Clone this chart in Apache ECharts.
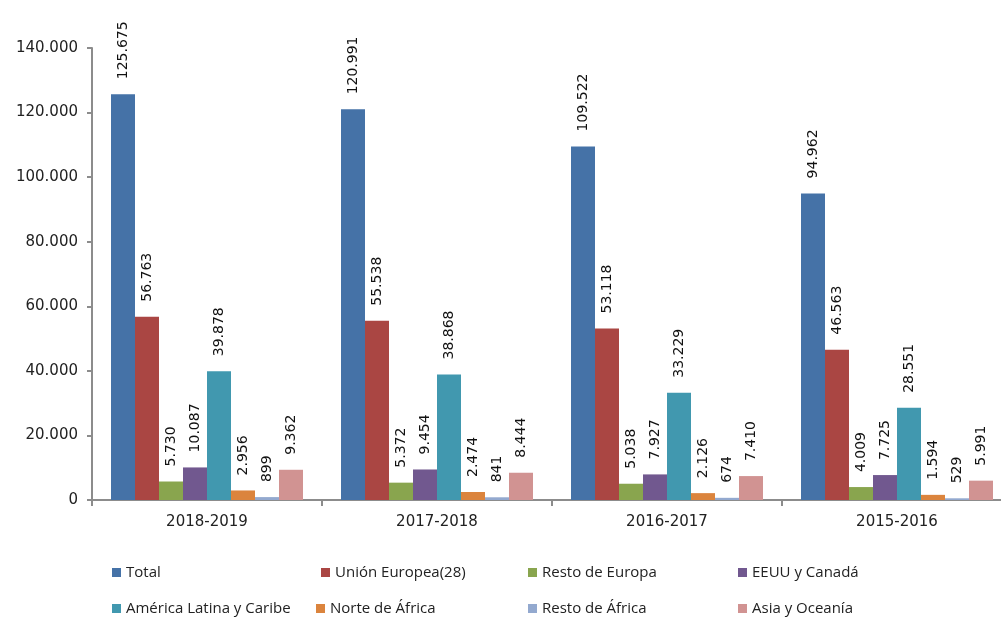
<!DOCTYPE html>
<html>
<head>
<meta charset="utf-8">
<script src="https://cdn.jsdelivr.net/npm/echarts@6/dist/echarts.min.js"></script>
<style>html,body{margin:0;padding:0;background:#fff;}#c{width:1001px;height:619px;}</style>
</head>
<body>
<div id="c"></div>
<script>
const categories = ['2018-2019', '2017-2018', '2016-2017', '2015-2016'];
const seriesNames = ['Total', 'Unión Europea(28)', 'Resto de Europa', 'EEUU y Canadá',
  'América Latina y Caribe', 'Norte de África', 'Resto de África', 'Asia y Oceanía'];
const total = [125675, 120991, 109522, 94962];
const unionEuropea = [56763, 55538, 53118, 46563];
const restoEuropa = [5730, 5372, 5038, 4009];
const eeuuCanada = [10087, 9454, 7927, 7725];
const americaLatina = [39878, 38868, 33229, 28551];
const norteAfrica = [2956, 2474, 2126, 1594];
const restoAfrica = [899, 841, 674, 529];
const asiaOceania = [9362, 8444, 7410, 5991];
const seriesValues = [total, unionEuropea, restoEuropa, eeuuCanada, americaLatina, norteAfrica, restoAfrica, asiaOceania];
const colors = ['#4572A7', '#AA4643', '#89A54E', '#71588F', '#4198AF', '#DB843D', '#93A9CF', '#D19392'];

function fmt(v) {
  return String(v).replace(/\B(?=(\d{3})+(?!\d))/g, '.');
}

const legendPos = [
  [107, 572], [316, 572], [523, 572], [733, 572],
  [107, 608], [311, 608], [523, 608], [733, 608]
];

const chart = echarts.init(document.getElementById('c'));
chart.setOption({
  animation: false,
  color: colors,
  grid: { left: 92, top: 48, width: 920, height: 452, outerBoundsMode: 'none', containLabel: false },
  legend: seriesNames.map((n, i) => ({
    data: [n],
    left: legendPos[i][0],
    top: legendPos[i][1] - 12,
    itemWidth: 9,
    itemHeight: 9,
    icon: 'rect',
    itemGap: 0,
    textStyle: { fontFamily: 'Open Sans', fontSize: 15, color: '#222', padding: [0, 0, 0, 0] }
  })),
  xAxis: {
    type: 'category',
    data: categories,
    axisLine: { lineStyle: { color: '#8c8c8c', width: 2 } },
    axisTick: { show: true, length: 6, lineStyle: { color: '#8c8c8c', width: 2 } },
    axisLabel: { fontFamily: 'DejaVu Sans', fontSize: 15, color: '#222', margin: 15 }
  },
  yAxis: {
    type: 'value',
    min: 0,
    max: 140000,
    interval: 20000,
    splitLine: { show: false },
    axisLine: { show: true, lineStyle: { color: '#8c8c8c', width: 2 } },
    axisTick: { show: true, length: 5, lineStyle: { color: '#8c8c8c', width: 2 } },
    axisLabel: { fontFamily: 'DejaVu Sans', fontSize: 15, color: '#222', margin: 14, formatter: v => fmt(v) }
  },
  series: seriesNames.map((n, i) => ({
    name: n,
    type: 'bar',
    data: seriesValues[i],
    barWidth: 24,
    barGap: '0%',
    itemStyle: { color: colors[i] },
    label: {
      show: true,
      position: 'top',
      rotate: 90,
      align: 'left',
      verticalAlign: 'middle',
      distance: 15,
      fontFamily: 'DejaVu Sans',
      fontSize: 14,
      color: '#111',
      formatter: p => fmt(p.value)
    }
  }))
});
</script>
</body>
</html>
